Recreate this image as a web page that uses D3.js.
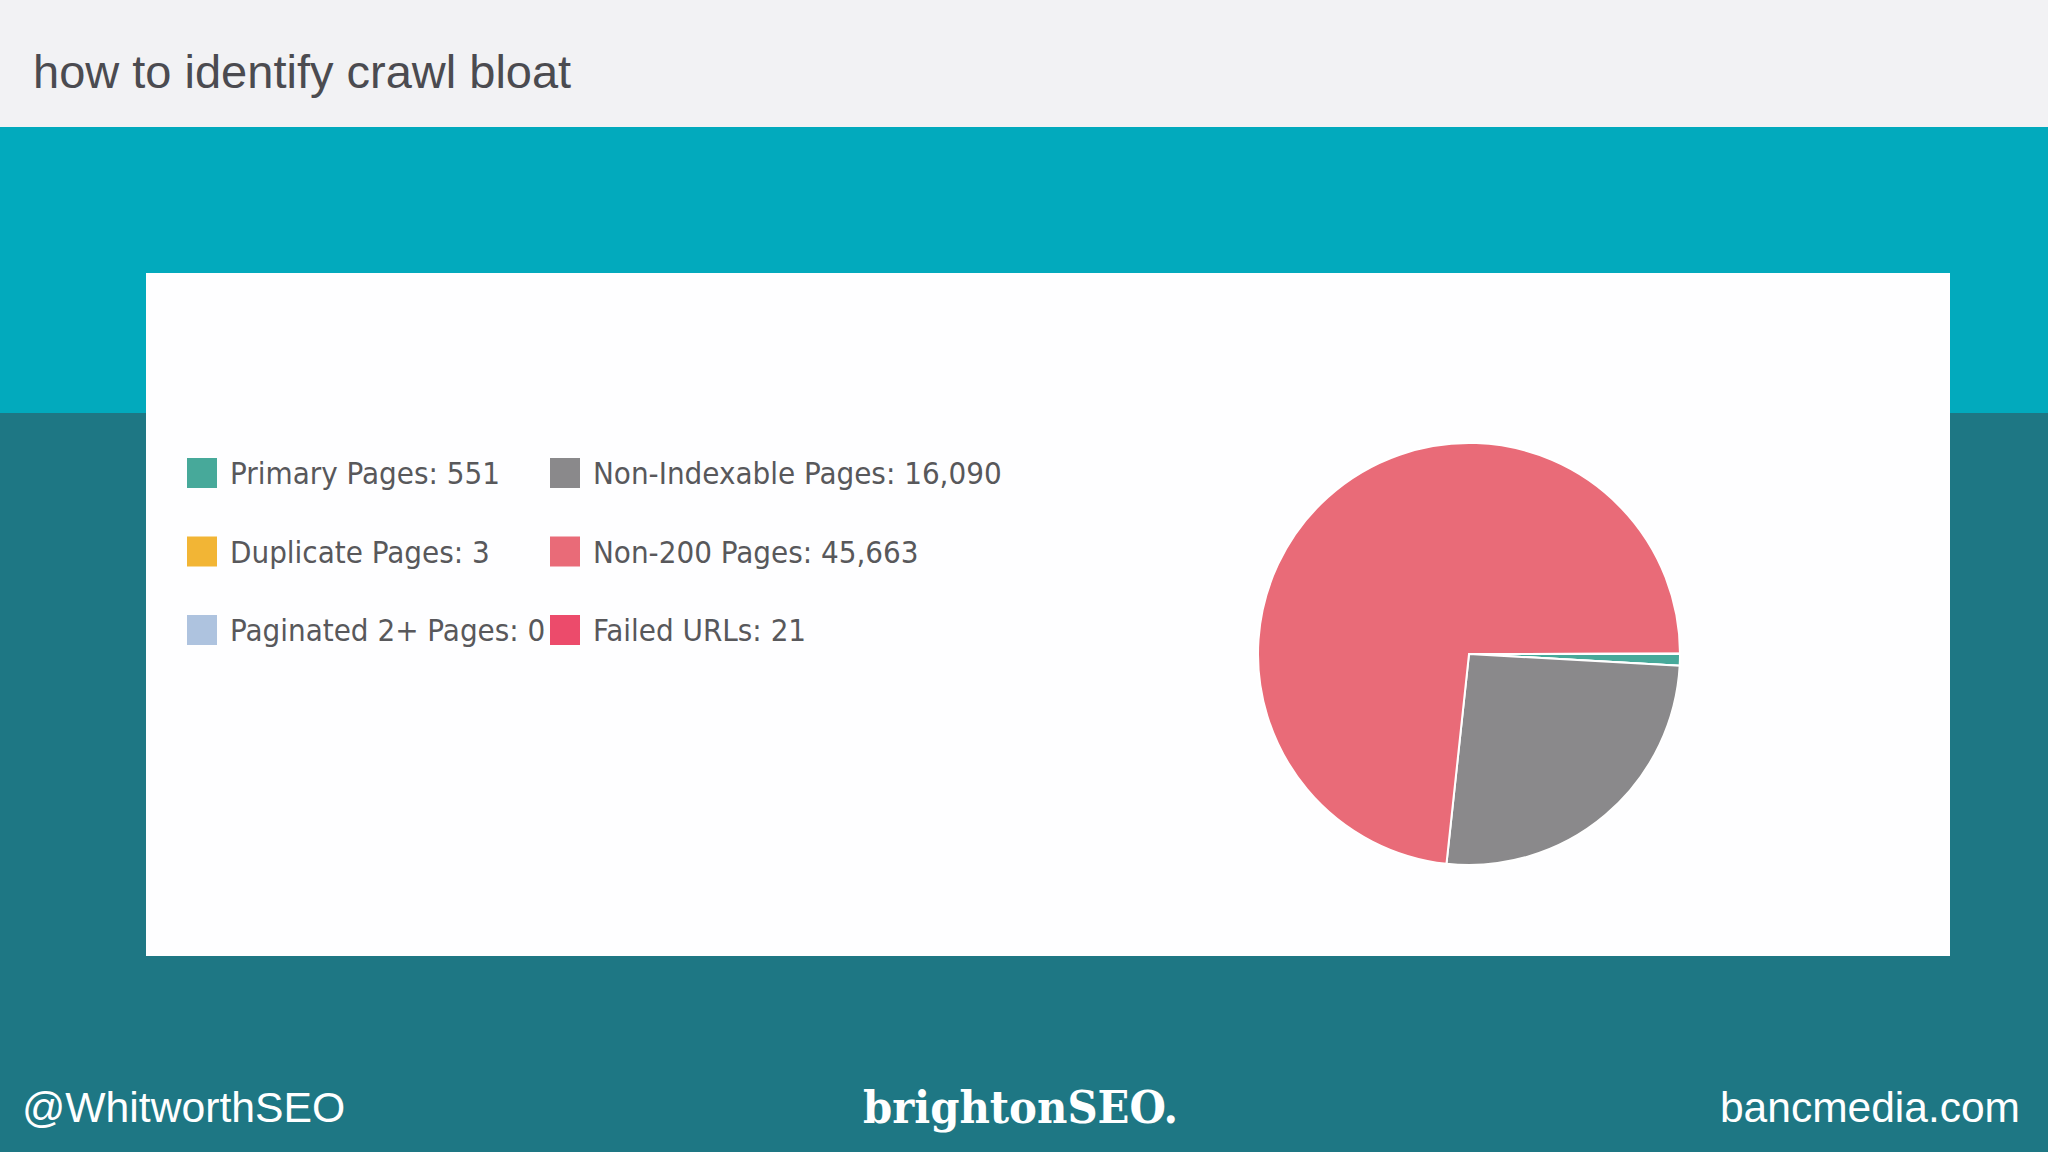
<!DOCTYPE html>
<html>
<head>
<meta charset="utf-8">
<script src="https://cdn.jsdelivr.net/npm/d3@7"></script>
<style>
  html, body { margin: 0; padding: 0; background: #1e7784; }
  svg { display: block; }
</style>
</head>
<body>
<svg id="chart" width="2048" height="1152"></svg>
<script>
// ---- data ----
const categories = ["Primary Pages", "Duplicate Pages", "Paginated 2+ Pages", "Non-Indexable Pages", "Non-200 Pages", "Failed URLs"];
const values = [551, 3, 0, 16090, 45663, 21];
const colors = ["#47a99a", "#f2b535", "#aec3df", "#8a898b", "#e96b78", "#ec4b6b"];
const titleText = "how to identify crawl bloat";
const footerLeft = "@WhitworthSEO";
const footerCenter = "brightonSEO.";
const footerRight = "bancmedia.com";

const W = 2048, H = 1152;
const svg = d3.select("#chart");

// ---- slide background ----
svg.append("rect").attr("x", 0).attr("y", 0).attr("width", W).attr("height", H).attr("fill", "#1e7784");
svg.append("rect").attr("x", 0).attr("y", 127).attr("width", W).attr("height", 286).attr("fill", "#02aabd");
svg.append("rect").attr("x", 0).attr("y", 0).attr("width", W).attr("height", 127).attr("fill", "#f2f2f4");

svg.append("text").attr("x", 33).attr("y", 88)
  .attr("font-family", "Liberation Sans, Arial, sans-serif")
  .attr("font-size", 47).attr("fill", "#4b4b50")
  .text(titleText);

// ---- chart panel ----
svg.append("rect").attr("x", 146).attr("y", 273).attr("width", 1804).attr("height", 683).attr("fill", "#fefeff");

// ---- legend ----
const fmt = d3.format(",");
const legend = svg.append("g").attr("transform", "translate(187,458)");
const colX = d3.scaleOrdinal().domain([0, 1]).range([0, 363]);
const rowY = d3.scaleLinear().domain([0, 2]).range([0, 157]);
const items = legend.selectAll("g.item").data(categories.map((c, i) => ({c, v: values[i], col: colors[i], i})))
  .join("g").attr("class", "item")
  .attr("transform", d => `translate(${colX(Math.floor(d.i / 3))},${rowY(d.i % 3)})`);
items.append("rect").attr("width", 30).attr("height", 30).attr("fill", d => d.col);
items.append("text").attr("x", 43).attr("y", 15).attr("dy", "0.36em")
  .attr("font-family", "DejaVu Sans Condensed, DejaVu Sans, sans-serif")
  .attr("font-stretch", "condensed")
  .attr("font-size", 31).attr("fill", "#58585b")
  .text(d => `${d.c}: ${fmt(d.v)}`);

// ---- pie ----
const cx = 1469, cy = 654, R = 211;
const pie = d3.pie().sort(null).value(d => d.v)
  .startAngle(Math.PI / 2).endAngle(Math.PI / 2 + 2 * Math.PI);
const arc = d3.arc().innerRadius(0).outerRadius(R);
svg.append("g").attr("transform", `translate(${cx},${cy})`)
  .selectAll("path")
  .data(pie(categories.map((c, i) => ({c, v: values[i], col: colors[i]}))))
  .join("path")
  .attr("d", arc)
  .attr("fill", d => d.data.col)
  .attr("stroke", "#ffffff")
  .attr("stroke-width", d => d.data.v > 0 ? 2 : 0)
  .attr("stroke-linejoin", "round");

// ---- footer ----
svg.append("text").attr("x", 22).attr("y", 1122)
  .attr("font-family", "Liberation Sans, Arial, sans-serif")
  .attr("font-size", 42.7).attr("fill", "#ffffff").text(footerLeft);
svg.append("text").attr("x", 2020).attr("y", 1122).attr("text-anchor", "end")
  .attr("font-family", "Liberation Sans, Arial, sans-serif")
  .attr("font-size", 42.5).attr("fill", "#ffffff").text(footerRight);
svg.append("text").attr("x", 863).attr("y", 1123)
  .attr("font-family", "DejaVu Serif, serif").attr("font-weight", "bold")
  .attr("font-size", 44).attr("fill", "#ffffff")
  .attr("textLength", 315).attr("lengthAdjust", "spacingAndGlyphs")
  .text(footerCenter);
</script>
</body>
</html>
